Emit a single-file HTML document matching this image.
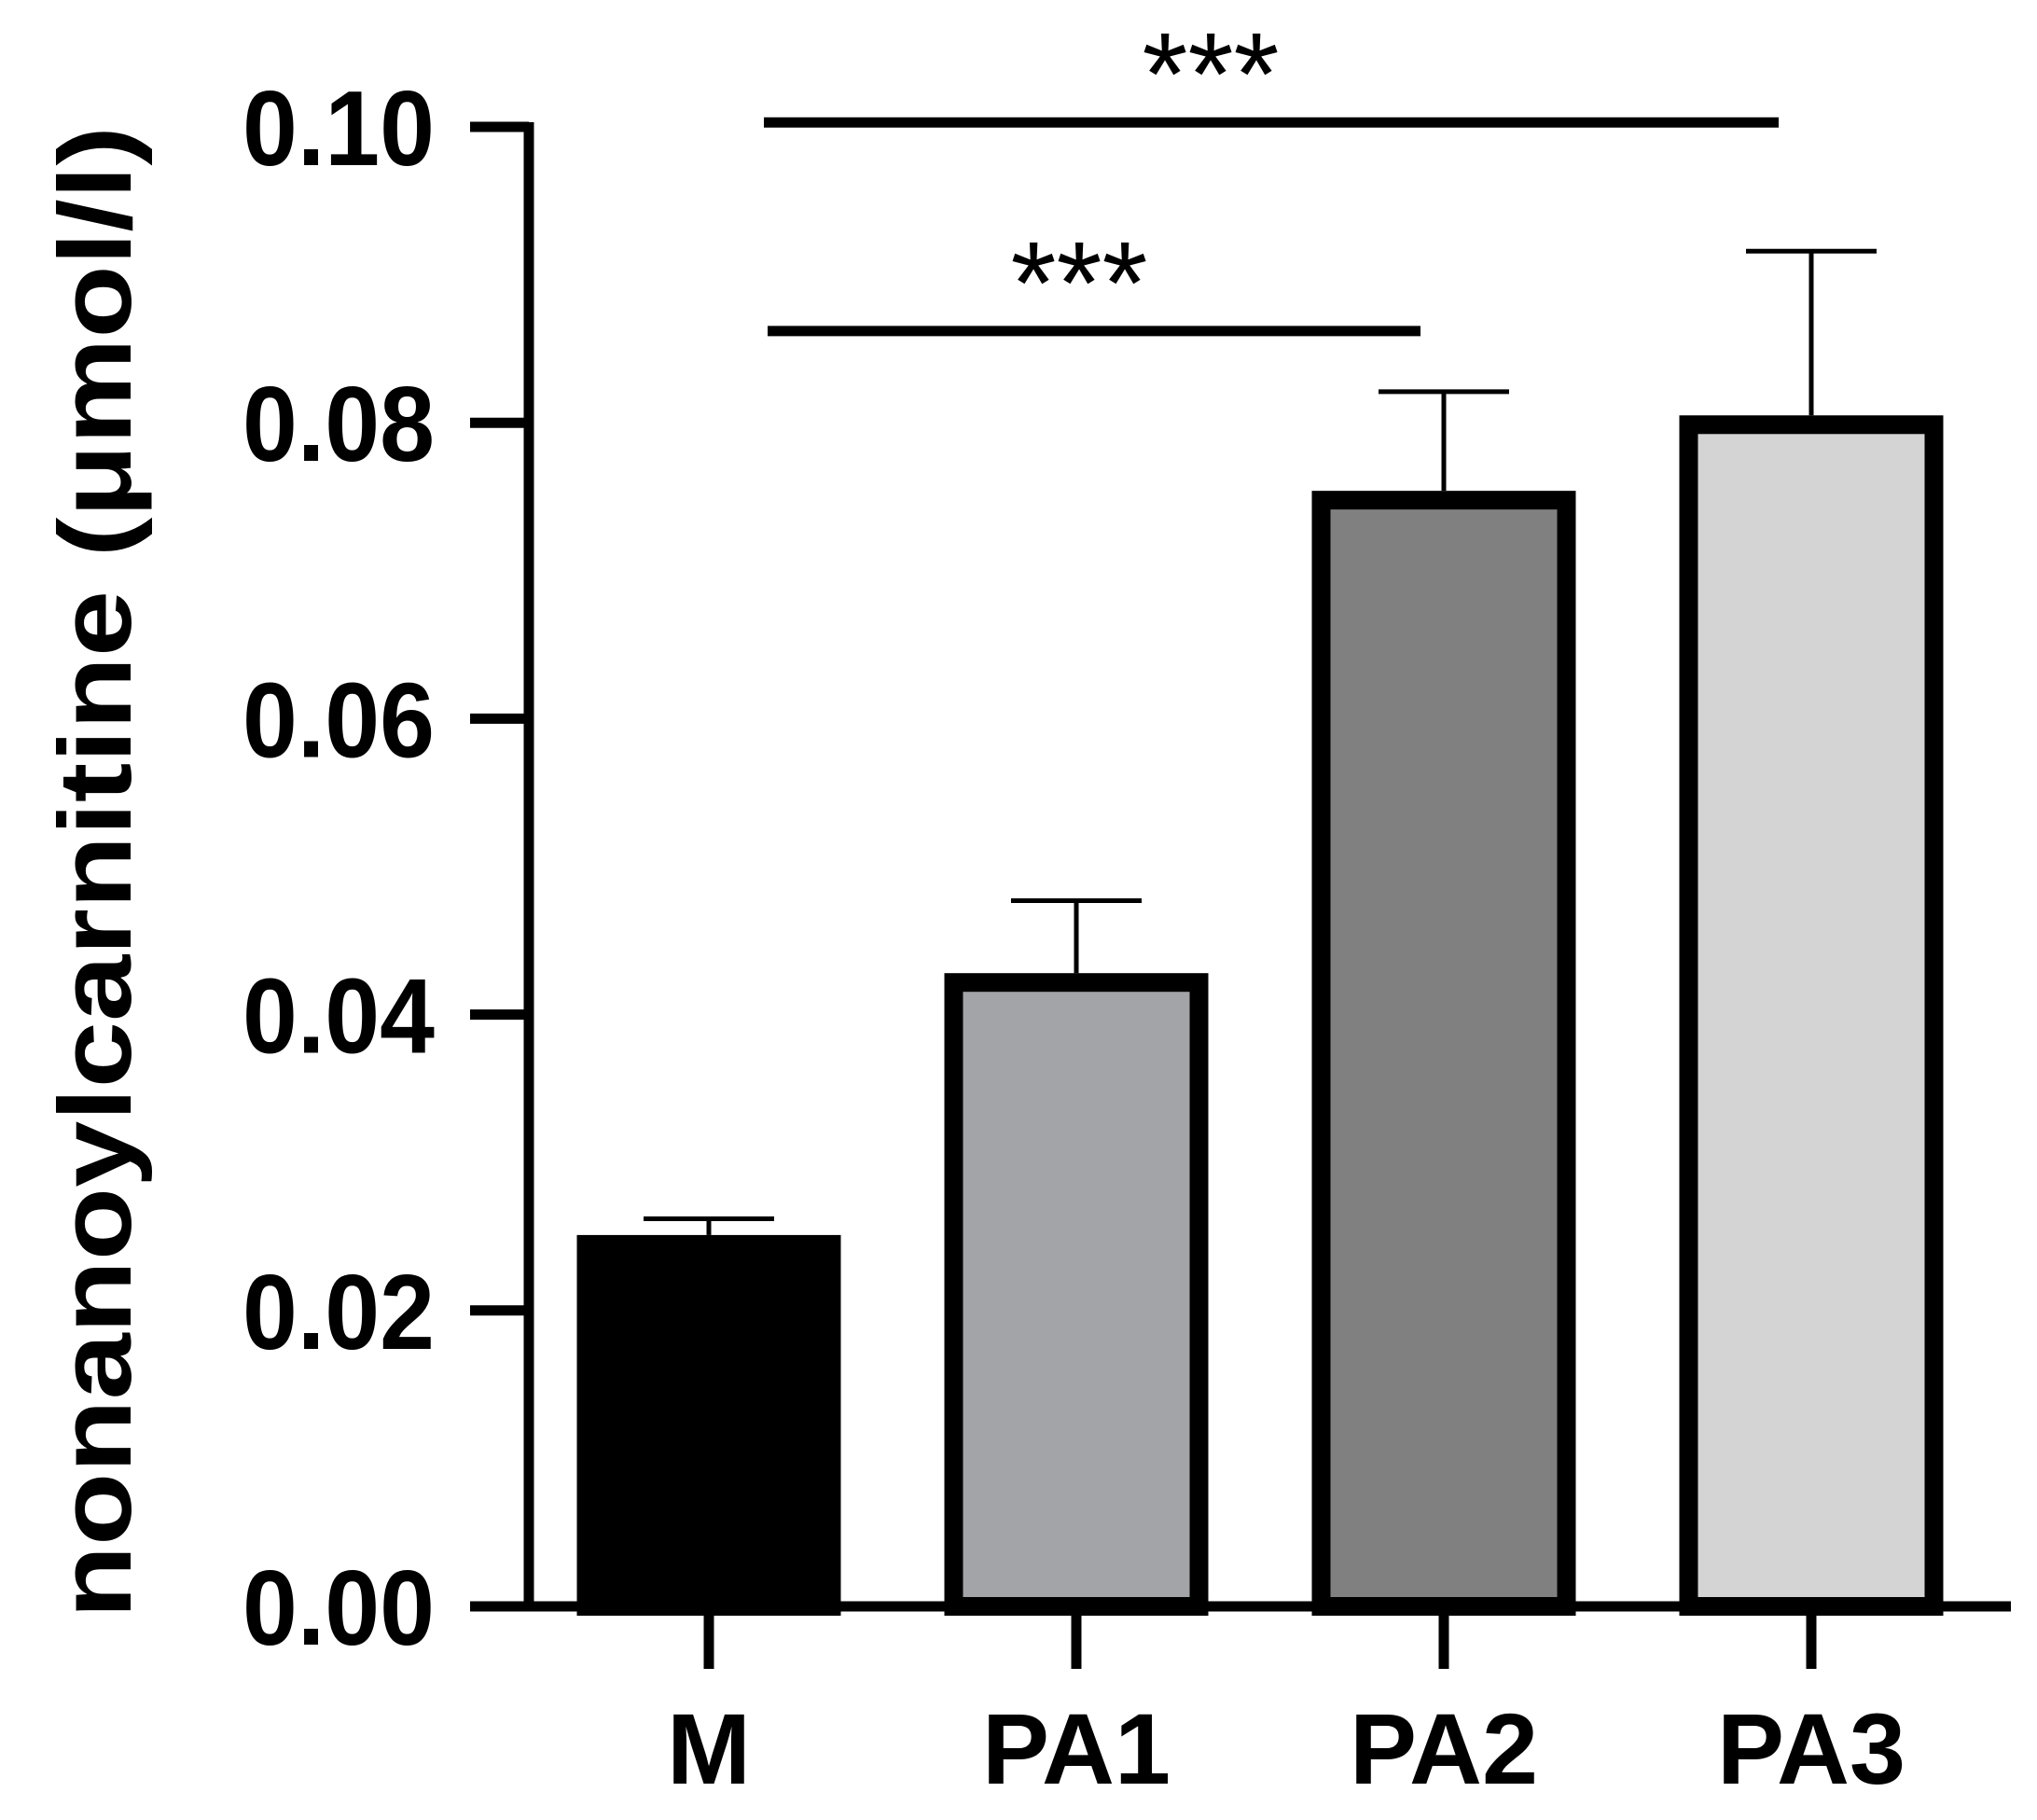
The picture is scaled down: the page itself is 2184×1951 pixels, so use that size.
<!DOCTYPE html>
<html><head><meta charset="utf-8"><style>
html,body{margin:0;padding:0;background:#fff;}
svg{display:block;}
text{font-family:"Liberation Sans",Arial,sans-serif;font-weight:bold;fill:#000;}
</style></head><body>
<svg id="chart" width="2184" height="1951" viewBox="0 0 2184 1951" xmlns="http://www.w3.org/2000/svg">
<text x="0" y="0" transform="translate(140,935) rotate(-90)" text-anchor="middle" font-size="110" textLength="1600" lengthAdjust="spacingAndGlyphs">nonanoylcarnitine (μmol/l)</text>
<g id="plot"></g>
</svg>
<script>
const categories = ["M","PA1","PA2","PA3"];
const means = [0.0251,0.0428,0.0754,0.0805];
const errors = [0.0011,0.0049,0.0067,0.0111];
const fills = ["#000000","#a3a4a8","#808080","#d4d4d4"];
const yTicks = [0,0.02,0.04,0.06,0.08,0.10];
const yTickLabels = ["0.00","0.02","0.04","0.06","0.08","0.10"];
const sigPairs = [[0,3,0.1003],[0,2,0.0862]];
const sigLabels = ["***","***"];

const NS="http://www.w3.org/2000/svg";
const g=document.getElementById('plot');
const x0=567, y0=1722, yTop=136, yMax=0.10;
function yS(v){return y0-(v/yMax)*(y0-yTop);}
const centers0=760, step=394;
function xS(i){return centers0+i*step;}
const barW=283, sw=20;
function mk(t,a){const e=document.createElementNS(NS,t);for(const k in a)e.setAttribute(k,a[k]);g.appendChild(e);return e;}

categories.forEach((c,i)=>{
  const cx=xS(i), top=yS(means[i]), eTop=yS(means[i]+errors[i]);
  const ln=mk('line',{x1:cx,x2:cx,y1:top,y2:eTop,stroke:'#000','stroke-width':5});
  
  
  const cap=mk('line',{x1:cx-70,x2:cx+70,y1:eTop,y2:eTop,stroke:'#000','stroke-width':5});
  
  
  const r=mk('rect',{x:cx-barW/2+sw/2,y:top+sw/2,width:barW-sw,height:y0-top-sw/2,fill:fills[i],stroke:'#000','stroke-width':sw});
  
  
  const t=mk('line',{x1:cx,x2:cx,y1:y0,y2:y0+67,stroke:'#000','stroke-width':11});
  
  
  const lb=mk('text',{x:cx,y:1912,'text-anchor':'middle','font-size':108});
  lb.textContent=c;
  
  
});

const ya=mk('line',{x1:x0,x2:x0,y1:yTop-5,y2:y0+5,stroke:'#000','stroke-width':11});


const xa=mk('line',{x1:504,x2:2156,y1:y0,y2:y0,stroke:'#000','stroke-width':11});



yTicks.forEach((v,i)=>{
  const y=yS(v);
  const t=mk('line',{x1:504,x2:x0,y1:y,y2:y,stroke:'#000','stroke-width':11});
  
  
  const lb=mk('text',{x:466,y:y+41,'text-anchor':'end','font-size':114,textLength:206,lengthAdjust:'spacingAndGlyphs'});
  lb.textContent=yTickLabels[i];
  
  
});

const starX=[1298,1157];
const lineEnds=[1907,1523];
sigPairs.forEach((p,i)=>{
  const y=yS(p[2]);
  const l=mk('line',{x1:819+i*4,x2:lineEnds[i],y1:y,y2:y,stroke:'#000','stroke-width':11});
  
  
  const t=mk('text',{x:starX[i],y:y-8,'text-anchor':'middle','font-size':126});
  t.setAttribute('style','font-weight:normal');
  t.textContent=sigLabels[i];
  
  
});
</script>
</body></html>
